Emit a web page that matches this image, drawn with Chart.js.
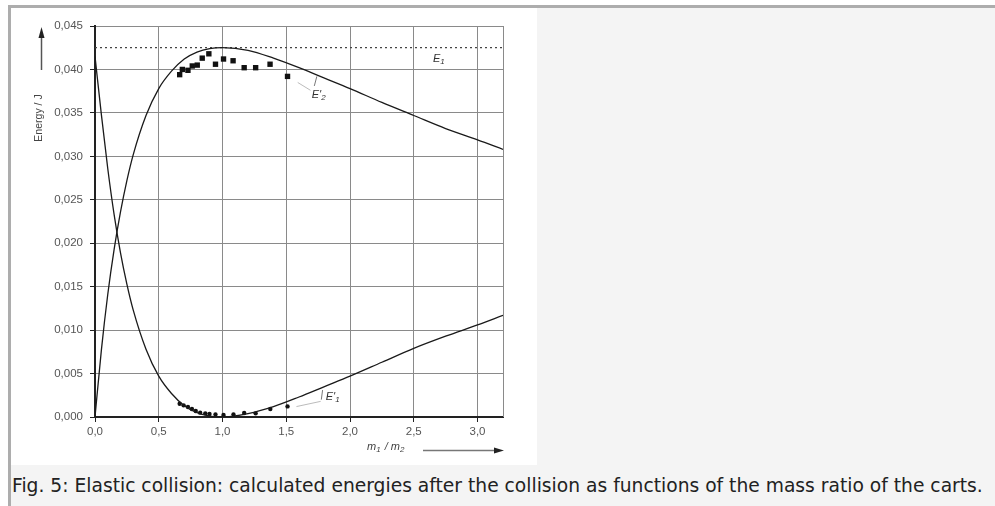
<!DOCTYPE html>
<html>
<head>
<meta charset="utf-8">
<script src="https://cdn.jsdelivr.net/npm/chart.js@4.4.1/dist/chart.umd.min.js"></script>
<style>
  body { margin: 0; background: #fff; }
  #figure {
    position: absolute; left: 8px; top: 5px; right: 0; bottom: 0;
    background: #f4f4f4;
    border-top: 3px solid #adadad;
    border-left: 3px solid #adadad;
  }
  #chartBox { position: absolute; left: 0; top: 0; width: 526px; height: 457px; background: #fff; }
  #caption {
    position: absolute; left: 1px; top: 467px;
    font-family: "DejaVu Sans", sans-serif; font-size: 18.7px; line-height: 22px; color: #222;
    white-space: nowrap;
  }
</style>
</head>
<body>
<div id="figure">
  <div id="chartBox"><canvas id="energyChart" width="526" height="457"></canvas></div>
  <div id="caption">Fig. 5: Elastic collision: calculated energies after the collision as functions of the mass ratio of the carts.</div>
</div>
<script>
// tick labels
const xTickValues = [0, 0.5, 1, 1.5, 2, 2.5, 3];
const yTickValues = [0, 0.005, 0.01, 0.015, 0.02, 0.025, 0.03, 0.035, 0.04, 0.045];

// curves (m1/m2 -> energy in J)
const curveX   = [0, 0.05, 0.1, 0.15, 0.2, 0.25, 0.3, 0.4, 0.5, 0.6, 0.7, 0.8, 0.9, 1.0, 1.2, 1.4, 1.6, 1.8, 2.0, 2.25, 2.5, 2.75, 3.0, 3.2];
const e1Prime  = [0.0415, 0.0348, 0.0286, 0.0233, 0.0189, 0.0153, 0.0123, 0.0078, 0.0047, 0.0027, 0.0013, 0.0005, 0.0001, 0.0000, 0.0004, 0.0012, 0.0023, 0.0035, 0.0047, 0.0063, 0.0079, 0.0093, 0.0106, 0.0117];
const e2Prime  = [0.0000, 0.0077, 0.0141, 0.0193, 0.0236, 0.0272, 0.0302, 0.0347, 0.0378, 0.0398, 0.0412, 0.0420, 0.0424, 0.0425, 0.0422, 0.0413, 0.0402, 0.0390, 0.0378, 0.0362, 0.0347, 0.0332, 0.0319, 0.0308];
const e1Level  = 0.0425;

// measured points
const squareX = [0.664, 0.685, 0.729, 0.763, 0.802, 0.841, 0.893, 0.945, 1.008, 1.083, 1.170, 1.260, 1.373, 1.510];
const squareY = [0.0394, 0.0400, 0.0399, 0.0404, 0.0405, 0.0413, 0.0418, 0.0406, 0.0412, 0.0410, 0.0402, 0.0402, 0.0406, 0.0392];
const dotX = [0.664, 0.695, 0.729, 0.760, 0.790, 0.825, 0.865, 0.898, 0.945, 1.008, 1.086, 1.170, 1.260, 1.375, 1.510];
const dotY = [0.00153, 0.00134, 0.00115, 0.00092, 0.00069, 0.00050, 0.00042, 0.00035, 0.00030, 0.00023, 0.00030, 0.00046, 0.00042, 0.00092, 0.00122];

const toPoints = (xs, ys) => xs.map((x, i) => ({ x: x, y: ys[i] }));
const comma = (v, d) => v.toFixed(d).replace('.', ',');

const tickFont = { family: 'Liberation Sans, Arial, sans-serif', size: 11.5 };

// labels, arrows and the right frame line
const annotations = {
    id: 'annotations',
    afterDatasetsDraw(chart) {
        const ctx = chart.ctx;
        const xs = chart.scales.x, ys = chart.scales.y;
        const area = chart.chartArea;
        const px = v => xs.getPixelForValue(v);
        const py = v => ys.getPixelForValue(v);
        ctx.save();

        // right border
        ctx.strokeStyle = '#8a8a8a';
        ctx.lineWidth = 1;
        ctx.beginPath();
        ctx.moveTo(area.right + 0.5, area.top);
        ctx.lineTo(area.right + 0.5, area.bottom);
        ctx.stroke();

        const label = (x, y, sup, sub) => {
            ctx.fillStyle = '#333';
            ctx.textBaseline = 'middle';
            ctx.textAlign = 'left';
            ctx.font = 'italic 11px Liberation Sans, Arial, sans-serif';
            let cx = px(x);
            ctx.fillText('E' + sup, cx, py(y));
            cx += ctx.measureText('E' + sup).width;
            ctx.font = 'italic 8px Liberation Sans, Arial, sans-serif';
            ctx.fillText(sub, cx, py(y) + 3);
        };
        const leader = (x1, y1, x2, y2, color) => {
            ctx.strokeStyle = color;
            ctx.lineWidth = 0.8;
            ctx.beginPath();
            ctx.moveTo(px(x1), py(y1));
            ctx.lineTo(px(x2), py(y2));
            ctx.stroke();
        };

        label(2.65, 0.0412, '', '1');
        label(1.70, 0.0371, '\'', '2');
        leader(1.74, 0.0392, 1.72, 0.0381, '#555');
        leader(1.59, 0.0385, 1.69, 0.0376, '#aaa');
        label(1.81, 0.00235, '\'', '1');
        leader(1.785, 0.0031, 1.775, 0.0020, '#555');
        leader(1.58, 0.0012, 1.77, 0.0018, '#aaa');

        // y axis title with arrow
        ctx.fillStyle = '#444';
        ctx.font = '10.5px Liberation Sans, Arial, sans-serif';
        ctx.save();
        ctx.translate(28, area.top + 92);
        ctx.rotate(-Math.PI / 2);
        ctx.textAlign = 'center';
        ctx.textBaseline = 'middle';
        ctx.fillText('Energy / J', 0, 0);
        ctx.restore();
        ctx.strokeStyle = '#555';
        ctx.lineWidth = 1.5;
        ctx.beginPath();
        ctx.moveTo(30.5, area.top + 44);
        ctx.lineTo(30.5, area.top + 8);
        ctx.stroke();
        ctx.fillStyle = '#222';
        ctx.beginPath();
        ctx.moveTo(30.5, area.top + 1);
        ctx.lineTo(27.5, area.top + 12);
        ctx.lineTo(33.5, area.top + 12);
        ctx.closePath();
        ctx.fill();

        // x axis title with arrow
        const ty = area.bottom + 30;
        ctx.fillStyle = '#444';
        ctx.textAlign = 'left';
        ctx.textBaseline = 'middle';
        ctx.font = 'italic 11px Liberation Sans, Arial, sans-serif';
        let tx = area.left + 272;
        ctx.fillText('m', tx, ty);
        tx += ctx.measureText('m').width;
        ctx.font = 'italic 8px Liberation Sans, Arial, sans-serif';
        ctx.fillText('1', tx, ty + 3);
        tx += ctx.measureText('1').width + 1;
        ctx.font = 'italic 11px Liberation Sans, Arial, sans-serif';
        ctx.fillText(' / m', tx, ty);
        tx += ctx.measureText(' / m').width;
        ctx.font = 'italic 8px Liberation Sans, Arial, sans-serif';
        ctx.fillText('2', tx, ty + 3);

        ctx.strokeStyle = '#777';
        ctx.lineWidth = 1.5;
        ctx.beginPath();
        ctx.moveTo(area.left + 328, ty + 3.5);
        ctx.lineTo(area.right - 6, ty + 3.5);
        ctx.stroke();
        ctx.fillStyle = '#222';
        ctx.beginPath();
        ctx.moveTo(area.right + 1, ty + 3.5);
        ctx.lineTo(area.right - 9, ty + 0.5);
        ctx.lineTo(area.right - 9, ty + 6.5);
        ctx.closePath();
        ctx.fill();

        ctx.restore();
    }
};

const ctx = document.getElementById('energyChart').getContext('2d');
new Chart(ctx, {
    type: 'line',
    data: {
        datasets: [
            {
                label: "E'1",
                data: toPoints(curveX, e1Prime),
                borderColor: '#1a1a1a',
                borderWidth: 1.3,
                pointRadius: 0,
                cubicInterpolationMode: 'monotone',
                fill: false
            },
            {
                label: "E'2",
                data: toPoints(curveX, e2Prime),
                borderColor: '#1a1a1a',
                borderWidth: 1.3,
                pointRadius: 0,
                cubicInterpolationMode: 'monotone',
                fill: false
            },
            {
                label: 'E1',
                data: [{ x: 0, y: e1Level }, { x: 3.2, y: e1Level }],
                borderColor: '#444',
                borderWidth: 1.3,
                borderDash: [2, 3],
                pointRadius: 0,
                fill: false
            },
            {
                label: "E'2 measured",
                data: toPoints(squareX, squareY),
                showLine: false,
                pointStyle: 'rect',
                pointRadius: 3.8,
                backgroundColor: '#111',
                borderColor: '#111',
                borderWidth: 0
            },
            {
                label: "E'1 measured",
                data: toPoints(dotX, dotY),
                showLine: false,
                pointStyle: 'circle',
                pointRadius: 2.2,
                backgroundColor: '#111',
                borderColor: '#111',
                borderWidth: 0
            }
        ]
    },
    options: {
        responsive: false,
        animation: false,
        layout: { padding: { left: 0, top: 18, right: 34, bottom: 0 } },
        plugins: {
            legend: { display: false },
            tooltip: { enabled: false }
        },
        scales: {
            x: {
                type: 'linear',
                min: 0,
                max: 3.2,
                afterBuildTicks: scale => { scale.ticks = xTickValues.map(v => ({ value: v })); },
                afterFit: scale => { scale.height = 48; },
                ticks: {
                    color: '#555',
                    font: tickFont,
                    padding: 3,
                    maxRotation: 0,
                    callback: v => comma(v, 1)
                },
                grid: {
                    color: '#8a8a8a',
                    lineWidth: 1,
                    tickLength: 5,
                    tickColor: '#222'
                },
                border: { color: '#222', width: 2 }
            },
            y: {
                type: 'linear',
                min: 0,
                max: 0.045,
                afterBuildTicks: scale => { scale.ticks = yTickValues.map(v => ({ value: v })); },
                afterFit: scale => { scale.width = 84; },
                ticks: {
                    color: '#555',
                    font: tickFont,
                    padding: 7,
                    callback: v => comma(v, 3)
                },
                grid: {
                    color: '#8a8a8a',
                    lineWidth: 1,
                    tickLength: 5,
                    tickColor: '#222'
                },
                border: { color: '#222', width: 2 }
            }
        }
    },
    plugins: [annotations]
});
</script>
</body>
</html>
